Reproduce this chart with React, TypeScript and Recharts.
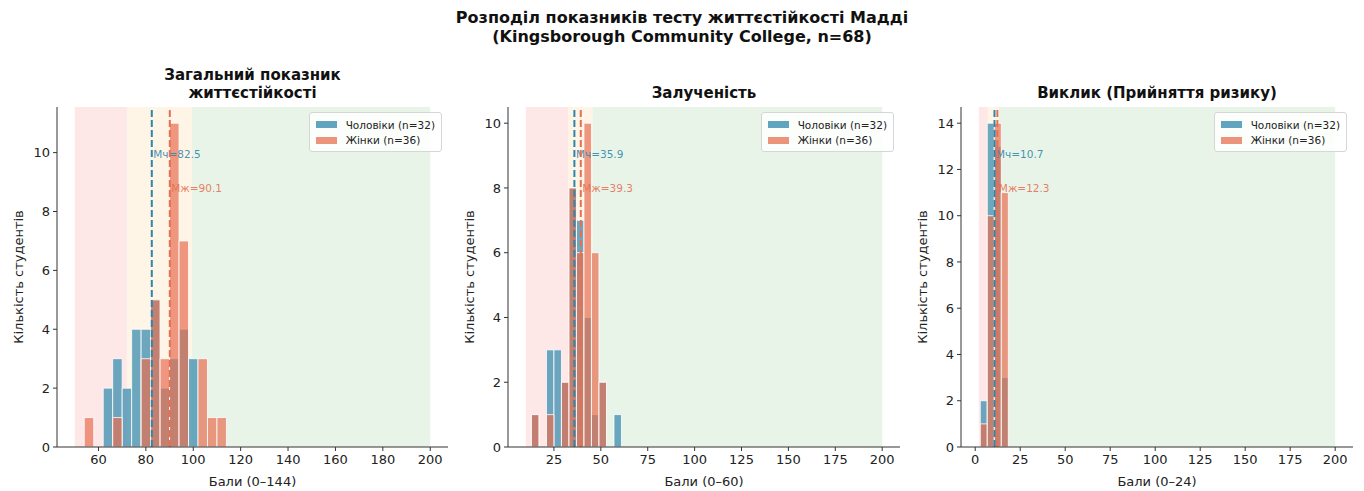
import React from 'react'
import { ComposedChart, XAxis, YAxis, ReferenceArea, ReferenceLine, Legend } from 'recharts'

// Розподіл показників тесту життєстійкості Мадді: гістограми для чоловіків і жінок

const FONT = '"DejaVu Sans", Verdana, sans-serif'
const MALE = '#2E86AB'
const FEMALE = '#E76F51'
const INK = '#222'
const ZONE_FILLS = ['#fde7e7', '#fef5e7', '#e9f4e9']

const seriesNames = ['Чоловіки (n=32)', 'Жінки (n=36)']

// Загальний показник життєстійкості
const totalEdges = [54, 58, 62, 66, 70, 74, 78, 82, 86, 90, 94, 98, 102, 106, 110, 114]
const totalMale = [0, 0, 2, 3, 2, 4, 4, 5, 2, 3, 4, 3, 0, 0, 0]
const totalFemale = [1, 0, 0, 1, 0, 0, 3, 5, 3, 11, 7, 0, 3, 1, 1]
const totalZones = [50, 72, 99.5, 200]
const totalMeans = [82.5, 90.1]

// Залученість
const commitEdges = [13, 17, 21, 25, 29, 33, 37, 41, 45, 49, 53, 57, 61]
const commitMale = [1, 0, 3, 3, 2, 8, 7, 4, 1, 2, 0, 1]
const commitFemale = [1, 0, 1, 0, 2, 8, 6, 10, 6, 2, 0, 0]
const commitZones = [10, 32.5, 45.5, 200]
const commitMeans = [35.9, 39.3]

// Виклик (прийняття ризику)
const challengeEdges = [2.8, 6.7, 10.6, 14.5, 18.4]
const challengeMale = [2, 14, 13, 3]
const challengeFemale = [1, 10, 14, 11]
const challengeZones = [2, 7, 13, 200]
const challengeMeans = [10.7, 12.3]

const xTicksTotal = [60, 80, 100, 120, 140, 160, 180, 200]
const xTicksQuarter = [0, 25, 50, 75, 100, 125, 150, 175, 200]
const yTicks10 = [0, 2, 4, 6, 8, 10]
const yTicks14 = [0, 2, 4, 6, 8, 10, 12, 14]

const tickStyle = { fontSize: 13, fill: INK, fontFamily: FONT }

function renderLegend() {
  return (
    <div
      style={{
        display: 'inline-block',
        background: 'rgba(255,255,255,0.85)',
        border: '1px solid #d6d6d6',
        borderRadius: 3,
        padding: '4px 6px 3px 6px',
        fontFamily: FONT,
        fontSize: 10.5,
        color: INK,
        whiteSpace: 'nowrap',
      }}
    >
      {seriesNames.map((name, i) => (
        <div key={name} style={{ display: 'flex', alignItems: 'center', height: 15.5 }}>
          <span
            style={{
              display: 'inline-block',
              width: 21,
              height: 7,
              background: i === 0 ? MALE : FEMALE,
              opacity: 0.75,
              marginRight: 9,
            }}
          />
          {name}
        </div>
      ))}
    </div>
  )
}

function meanLabel(text: string, color: string, frac: number) {
  return (props: any) => {
    const vb = props.viewBox || {}
    return (
      <text
        x={vb.x + 1.5}
        y={vb.y + vb.height * (1 - frac)}
        fill={color}
        fontSize={10.5}
        fontFamily={FONT}
        fillOpacity={0.9}
      >
        {text}
      </text>
    )
  }
}

interface PanelProps {
  left: number
  width: number
  mLeft: number
  mRight: number
  title: string[]
  xLabel: string
  edges: number[]
  male: number[]
  female: number[]
  zones: number[]
  means: number[]
  xTicks: number[]
  yTicks: number[]
}

function Panel(p: PanelProps) {
  const pad = (p.zones[3] - p.zones[0]) * 0.05
  const xDomain = [p.zones[0] - pad, p.zones[3] + pad]
  const yMax = Math.max(...p.male, ...p.female) * 1.05
  const ticks = p.xTicks.filter((t) => t >= xDomain[0] && t <= xDomain[1])
  const plotCenter = p.mLeft + 40 + (p.width - p.mLeft - 40 - p.mRight) / 2

  return (
    <div style={{ position: 'absolute', left: p.left, top: 0, width: p.width, height: 491 }}>
      <div
        style={{
          position: 'absolute',
          left: plotCenter - 160,
          width: 320,
          top: p.title.length > 1 ? 66 : 84,
          textAlign: 'center',
          fontFamily: FONT,
          fontWeight: 'bold',
          fontSize: 15,
          lineHeight: '18px',
          color: '#111',
        }}
      >
        {p.title.map((t) => (
          <div key={t}>{t}</div>
        ))}
      </div>
      <ComposedChart width={p.width} height={491} margin={{ top: 107, right: p.mRight, bottom: 14, left: p.mLeft }}>
        <XAxis
          type="number"
          dataKey="x"
          domain={xDomain}
          allowDataOverflow
          ticks={ticks}
          height={30}
          tickSize={4}
          tickMargin={4}
          stroke="#333"
          tick={tickStyle}
          label={(props: any) => {
            const vb = props.viewBox || {}
            return (
              <text
                x={vb.x + vb.width / 2}
                y={vb.y + 34}
                textAnchor="middle"
                dominantBaseline="central"
                fontSize={13}
                fontFamily={FONT}
                fill={INK}
              >
                {p.xLabel}
              </text>
            )
          }}
        />
        <YAxis
          type="number"
          domain={[0, yMax]}
          allowDataOverflow
          ticks={p.yTicks}
          width={40}
          tickSize={4}
          tickMargin={3}
          stroke="#333"
          tick={tickStyle}
          label={(props: any) => {
            const vb = props.viewBox || {}
            const cx = vb.x + vb.width - 39
            const cy = vb.y + vb.height / 2
            return (
              <text
                x={cx}
                y={cy}
                transform={`rotate(-90 ${cx} ${cy})`}
                textAnchor="middle"
                dominantBaseline="central"
                fontSize={13}
                fontFamily={FONT}
                fill={INK}
              >
                Кількість студентів
              </text>
            )
          }}
        />
        {ZONE_FILLS.map((fill, i) => (
          <ReferenceArea key={`zone-${i}`} x1={p.zones[i]} x2={p.zones[i + 1]} fill={fill} fillOpacity={1} stroke="none" />
        ))}
        {p.male.map((c, i) =>
          c > 0 ? (
            <ReferenceArea
              key={`m-${i}`}
              x1={p.edges[i]}
              x2={p.edges[i + 1]}
              y1={0}
              y2={c}
              fill={MALE}
              fillOpacity={0.7}
              stroke="#fff"
              strokeWidth={0.8}
            />
          ) : null
        )}
        {p.female.map((c, i) =>
          c > 0 ? (
            <ReferenceArea
              key={`f-${i}`}
              x1={p.edges[i]}
              x2={p.edges[i + 1]}
              y1={0}
              y2={c}
              fill={FEMALE}
              fillOpacity={0.7}
              stroke="#fff"
              strokeWidth={0.8}
            />
          ) : null
        )}
        <ReferenceLine
          x={p.means[0]}
          stroke={MALE}
          strokeWidth={2}
          strokeDasharray="7 3"
          label={meanLabel(`Мч=${p.means[0].toFixed(1)}`, MALE, 0.85)}
        />
        <ReferenceLine
          x={p.means[1]}
          stroke={FEMALE}
          strokeWidth={2}
          strokeDasharray="7 3"
          label={meanLabel(`Мж=${p.means[1].toFixed(1)}`, FEMALE, 0.75)}
        />
        <Legend
          content={renderLegend}
          layout="horizontal"
          verticalAlign="middle"
          align="center"
          wrapperStyle={{ top: 112, left: 'auto', right: p.mRight + 6, width: 'auto', height: 'auto' }}
        />
      </ComposedChart>
    </div>
  )
}

export default function App() {
  return (
    <div style={{ position: 'absolute', left: 0, top: 0, width: 1364, height: 491, background: '#fff' }}>
      <div
        style={{
          position: 'absolute',
          left: 0,
          width: 1364,
          top: 8,
          textAlign: 'center',
          fontFamily: FONT,
          fontWeight: 'bold',
          fontSize: 16,
          lineHeight: '19px',
          color: '#111',
        }}
      >
        <div>Розподіл показників тесту життєстійкості Мадді</div>
        <div>(Kingsborough Community College, n=68)</div>
      </div>
      <Panel
        left={0}
        width={460}
        mLeft={17}
        mRight={12}
        title={['Загальний показник', 'життєстійкості']}
        xLabel="Бали (0–144)"
        edges={totalEdges}
        male={totalMale}
        female={totalFemale}
        zones={totalZones}
        means={totalMeans}
        xTicks={xTicksTotal}
        yTicks={yTicks10}
      />
      <Panel
        left={460}
        width={460}
        mLeft={8}
        mRight={20}
        title={['Залученість']}
        xLabel="Бали (0–60)"
        edges={commitEdges}
        male={commitMale}
        female={commitFemale}
        zones={commitZones}
        means={commitMeans}
        xTicks={xTicksQuarter}
        yTicks={yTicks10}
      />
      <Panel
        left={905}
        width={459}
        mLeft={16}
        mRight={11}
        title={['Виклик (Прийняття ризику)']}
        xLabel="Бали (0–24)"
        edges={challengeEdges}
        male={challengeMale}
        female={challengeFemale}
        zones={challengeZones}
        means={challengeMeans}
        xTicks={xTicksQuarter}
        yTicks={yTicks14}
      />
    </div>
  )
}
